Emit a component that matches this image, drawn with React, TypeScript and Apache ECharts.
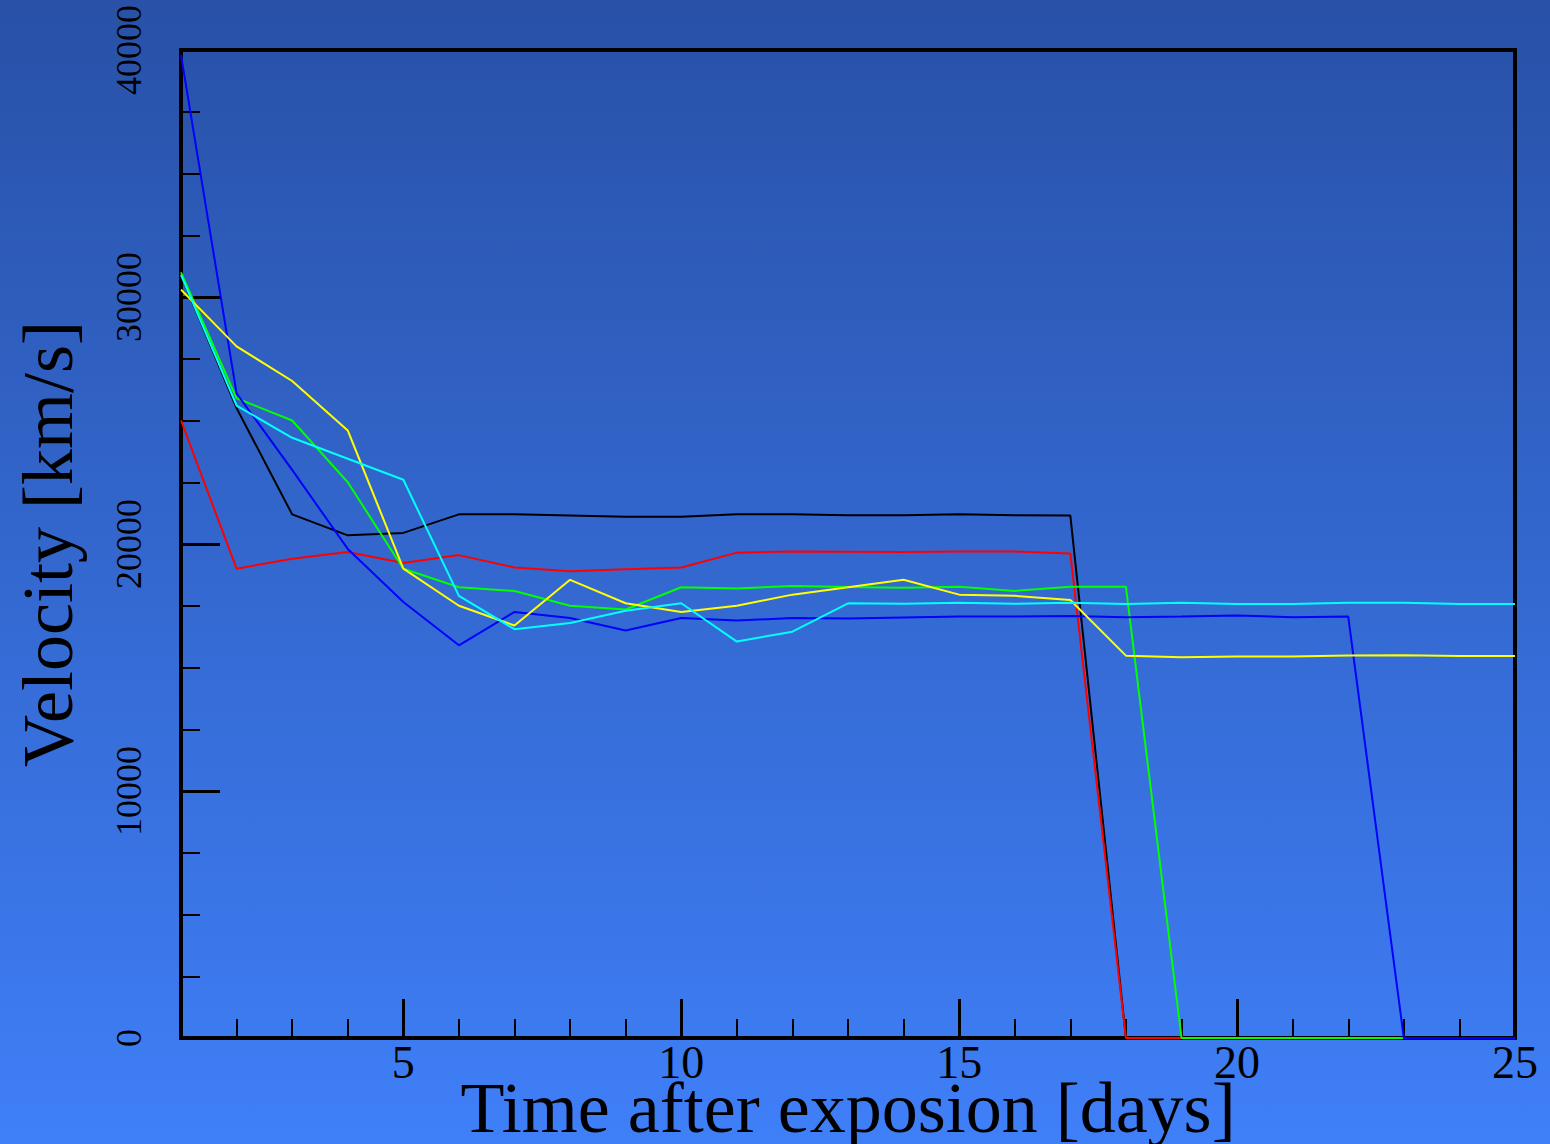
import React, { useEffect, useRef } from "react";
import * as echarts from "echarts";

// Days after explosion (x values shared by every curve)
const days = [1, 2, 3, 4, 5, 6, 7, 8, 9, 10, 11, 12, 13, 14, 15, 16, 17, 18, 19, 20, 21, 22, 23, 24, 25];

// Velocity curves in km/s, one value per day
const blackVel = [30900, 25500, 21200, 20350, 20450, 21200, 21200, 21150, 21100, 21100, 21200, 21200, 21160, 21160, 21200, 21160, 21150, 0, 0, 0, 0, 0, 0, 0, 0];
const redVel = [25000, 19000, 19400, 19680, 19230, 19550, 19050, 18900, 18975, 19050, 19650, 19700, 19690, 19680, 19700, 19700, 19620, 0, 0, 0, 0, 0, 0, 0, 0];
const greenVel = [31000, 25900, 25000, 22500, 19000, 18250, 18100, 17500, 17350, 18250, 18200, 18300, 18260, 18230, 18270, 18100, 18270, 18270, 0, 0, 0, 0, 0, 0, 0];
const blueVel = [39800, 26100, 23000, 19800, 17650, 15900, 17250, 17000, 16500, 17000, 16900, 17000, 16980, 17020, 17060, 17060, 17080, 17030, 17060, 17110, 17030, 17060, 0, 0, 0];
const yellowVel = [30300, 28000, 26600, 24600, 19000, 17500, 16700, 18550, 17600, 17250, 17500, 17950, 18250, 18550, 17950, 17900, 17730, 15480, 15410, 15450, 15450, 15490, 15500, 15470, 15470];
const cyanVel = [30900, 25600, 24300, 23450, 22600, 17900, 16550, 16800, 17300, 17600, 16050, 16450, 17600, 17580, 17620, 17580, 17620, 17570, 17620, 17570, 17570, 17620, 17620, 17570, 17570];

// Tick labels
const xMajorTicks = [5, 10, 15, 20, 25];
const yTicks = [0, 10000, 20000, 30000, 40000];

const curves = [
  { name: "black", color: "#000000", values: blackVel },
  { name: "red", color: "#ff0000", values: redVel },
  { name: "green", color: "#00ff00", values: greenVel },
  { name: "blue", color: "#0000ff", values: blueVel },
  { name: "yellow", color: "#ffff00", values: yellowVel },
  { name: "cyan", color: "#00ffff", values: cyanVel },
];

const FONT = "Liberation Serif, Times New Roman, serif";

export default function App() {
  const ref = useRef<HTMLDivElement>(null);

  useEffect(() => {
    if (!ref.current) return;
    const chart = echarts.init(ref.current, undefined, { renderer: "svg" });

    chart.setOption({
      animation: false,
      backgroundColor: new echarts.graphic.LinearGradient(0, 0, 0, 1, [
        { offset: 0, color: "#2851a7" },
        { offset: 1, color: "#3f7ff8" },
      ]),
      grid: {
        left: 181,
        right: 35,
        top: 50,
        bottom: 106,
        show: true,
        borderColor: "#000",
        borderWidth: 4,
        backgroundColor: "transparent",
        outerBoundsMode: "none",
      },
      xAxis: [
        {
          type: "value",
          min: 1,
          max: 25,
          interval: 1,
          name: "Time after exposion [days]",
          nameLocation: "middle",
          nameGap: 34,
          nameMoveOverlap: false,
          nameTextStyle: { fontFamily: FONT, fontSize: 72, color: "#000" },
          axisLine: { show: true, lineStyle: { color: "#000", width: 3 } },
          axisTick: { show: true, inside: true, length: 19, lineStyle: { color: "#000", width: 2 } },
          axisLabel: {
            show: true,
            margin: 1,
            fontFamily: FONT,
            fontSize: 46,
            color: "#000",
            formatter: (v: number) => (xMajorTicks.includes(v) ? String(v) : ""),
          },
          splitLine: { show: false },
        },
        {
          type: "value",
          min: 1,
          max: 25,
          position: "bottom",
          axisLine: { show: false },
          axisTick: {
            show: true,
            inside: true,
            length: 39,
            customValues: xMajorTicks,
            lineStyle: { color: "#000", width: 3 },
          },
          axisLabel: { show: false },
          splitLine: { show: false },
        },
      ],
      yAxis: {
        type: "value",
        min: yTicks[0],
        max: yTicks[yTicks.length - 1],
        interval: 10000,
        name: "Velocity [km/s]",
        nameLocation: "middle",
        nameGap: 97,
        nameMoveOverlap: false,
        nameTextStyle: { fontFamily: FONT, fontSize: 72, color: "#000" },
        axisLine: { show: true, lineStyle: { color: "#000", width: 3 } },
        axisTick: { show: true, inside: true, length: 39, lineStyle: { color: "#000", width: 3 } },
        minorTick: { show: true, splitNumber: 4, length: 19, lineStyle: { color: "#000", width: 2 } },
        axisLabel: {
          show: true,
          rotate: 90,
          margin: 34,
          fontFamily: FONT,
          fontSize: 36,
          color: "#000",
          formatter: (v: number) => String(v),
        },
        splitLine: { show: false },
        minorSplitLine: { show: false },
      },
      series: curves.map((c) => ({
        name: c.name,
        type: "line",
        xAxisIndex: 0,
        showSymbol: false,
        symbol: "none",
        lineStyle: { color: c.color, width: 2 },
        itemStyle: { color: c.color },
        data: days.map((d, i) => [d, c.values[i]]),
      })),
    });

    return () => chart.dispose();
  }, []);

  return (
    <div
      ref={ref}
      style={{ position: "fixed", left: 0, top: 0, width: 1550, height: 1144 }}
    />
  );
}
